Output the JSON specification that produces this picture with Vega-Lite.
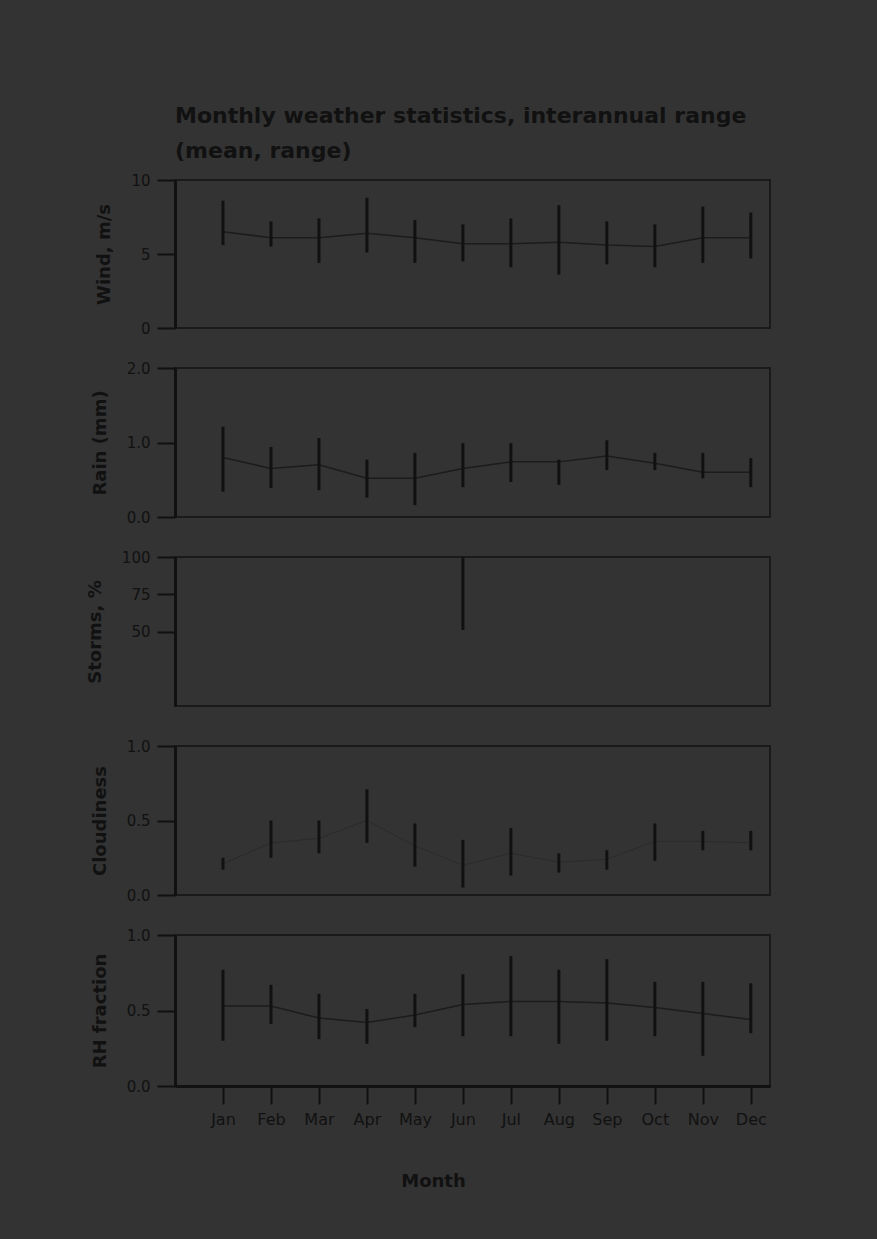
{
  "$schema": "https://vega.github.io/schema/vega-lite/v6.json",
  "background": "#333333",
  "padding": {"left": 85, "top": 105, "right": 106, "bottom": 49},
  "bounds": "flush",
  "title": {
    "text": ["Monthly weather statistics, interannual range", "(mean, range)"],
    "anchor": "start",
    "frame": "group",
    "fontSize": 22,
    "fontWeight": "bold",
    "font": "DejaVu Sans",
    "color": "#111111",
    "lineHeight": 35,
    "offset": 9
  },
  "config": {
    "view": {"stroke": "#1a1a1a", "strokeWidth": 2},
    "concat": {"spacing": 40},
    "axis": {
      "labelColor": "#111111",
      "titleColor": "#111111",
      "domainColor": "#111111",
      "tickColor": "#111111",
      "labelFont": "DejaVu Sans",
      "titleFont": "DejaVu Sans",
      "labelFontSize": 15,
      "titleFontSize": 18,
      "titleFontWeight": "bold",
      "domainWidth": 3,
      "tickSize": 18,
      "tickWidth": 2,
      "labelPadding": 7,
      "titlePadding": 17,
      "grid": false
    }
  },
  "datasets": {
    "wind": [
      {"month": 1, "lo": 5.6, "hi": 8.6, "mean": 6.5},
      {"month": 2, "lo": 5.5, "hi": 7.2, "mean": 6.1},
      {"month": 3, "lo": 4.4, "hi": 7.4, "mean": 6.1},
      {"month": 4, "lo": 5.1, "hi": 8.8, "mean": 6.4},
      {"month": 5, "lo": 4.4, "hi": 7.3, "mean": 6.1},
      {"month": 6, "lo": 4.5, "hi": 7.0, "mean": 5.7},
      {"month": 7, "lo": 4.1, "hi": 7.4, "mean": 5.7},
      {"month": 8, "lo": 3.6, "hi": 8.3, "mean": 5.8},
      {"month": 9, "lo": 4.3, "hi": 7.2, "mean": 5.6},
      {"month": 10, "lo": 4.1, "hi": 7.0, "mean": 5.5},
      {"month": 11, "lo": 4.4, "hi": 8.2, "mean": 6.1},
      {"month": 12, "lo": 4.7, "hi": 7.8, "mean": 6.1}
    ],
    "rain": [
      {"month": 1, "lo": 0.34, "hi": 1.21, "mean": 0.8},
      {"month": 2, "lo": 0.39, "hi": 0.94, "mean": 0.65},
      {"month": 3, "lo": 0.36, "hi": 1.06, "mean": 0.7},
      {"month": 4, "lo": 0.26, "hi": 0.77, "mean": 0.52},
      {"month": 5, "lo": 0.16, "hi": 0.86, "mean": 0.52},
      {"month": 6, "lo": 0.40, "hi": 0.99, "mean": 0.65},
      {"month": 7, "lo": 0.47, "hi": 0.99, "mean": 0.74},
      {"month": 8, "lo": 0.43, "hi": 0.77, "mean": 0.74},
      {"month": 9, "lo": 0.63, "hi": 1.03, "mean": 0.82},
      {"month": 10, "lo": 0.63, "hi": 0.86, "mean": 0.72},
      {"month": 11, "lo": 0.52, "hi": 0.86, "mean": 0.6},
      {"month": 12, "lo": 0.40, "hi": 0.79, "mean": 0.6}
    ],
    "storm": [
      {"month": 1, "lo": 0, "hi": 0},
      {"month": 2, "lo": 0, "hi": 0},
      {"month": 3, "lo": 0, "hi": 0},
      {"month": 4, "lo": 0, "hi": 0},
      {"month": 5, "lo": 0, "hi": 0},
      {"month": 6, "lo": 51, "hi": 100},
      {"month": 7, "lo": 0, "hi": 0},
      {"month": 8, "lo": 0, "hi": 0},
      {"month": 9, "lo": 0, "hi": 0},
      {"month": 10, "lo": 0, "hi": 0},
      {"month": 11, "lo": 0, "hi": 0},
      {"month": 12, "lo": 0, "hi": 0}
    ],
    "cloud": [
      {"month": 1, "lo": 0.17, "hi": 0.25, "mean": 0.21},
      {"month": 2, "lo": 0.25, "hi": 0.50, "mean": 0.35},
      {"month": 3, "lo": 0.28, "hi": 0.50, "mean": 0.38},
      {"month": 4, "lo": 0.35, "hi": 0.71, "mean": 0.5},
      {"month": 5, "lo": 0.19, "hi": 0.48, "mean": 0.33},
      {"month": 6, "lo": 0.05, "hi": 0.37, "mean": 0.2},
      {"month": 7, "lo": 0.13, "hi": 0.45, "mean": 0.28},
      {"month": 8, "lo": 0.15, "hi": 0.28, "mean": 0.22},
      {"month": 9, "lo": 0.17, "hi": 0.30, "mean": 0.24},
      {"month": 10, "lo": 0.23, "hi": 0.48, "mean": 0.36},
      {"month": 11, "lo": 0.30, "hi": 0.43, "mean": 0.36},
      {"month": 12, "lo": 0.30, "hi": 0.43, "mean": 0.35}
    ],
    "humid": [
      {"month": 1, "lo": 0.30, "hi": 0.77, "mean": 0.53},
      {"month": 2, "lo": 0.41, "hi": 0.67, "mean": 0.53},
      {"month": 3, "lo": 0.31, "hi": 0.61, "mean": 0.45},
      {"month": 4, "lo": 0.28, "hi": 0.51, "mean": 0.42},
      {"month": 5, "lo": 0.39, "hi": 0.61, "mean": 0.47},
      {"month": 6, "lo": 0.33, "hi": 0.74, "mean": 0.54},
      {"month": 7, "lo": 0.33, "hi": 0.86, "mean": 0.56},
      {"month": 8, "lo": 0.28, "hi": 0.77, "mean": 0.56},
      {"month": 9, "lo": 0.30, "hi": 0.84, "mean": 0.55},
      {"month": 10, "lo": 0.33, "hi": 0.69, "mean": 0.52},
      {"month": 11, "lo": 0.20, "hi": 0.69, "mean": 0.48},
      {"month": 12, "lo": 0.35, "hi": 0.68, "mean": 0.44}
    ]
  },
  "vconcat": [
    {
      "width": 595, "height": 148,
      "data": {"name": "wind"},
      "layer": [
        {"mark": {"type": "line", "color": "#1c1c1c", "strokeWidth": 1.5},
         "encoding": {
           "x": {"field": "month", "type": "quantitative", "scale": {"domain": [0, 12.4], "nice": false}, "axis": null},
           "y": {"field": "mean", "type": "quantitative", "scale": {"domain": [0, 10]}, "axis": {"title": "Wind, m/s", "values": [0, 5, 10]}}
         }},
        {"mark": {"type": "rule", "color": "#111111", "strokeWidth": 3},
         "encoding": {
           "x": {"field": "month", "type": "quantitative"},
           "y": {"field": "lo", "type": "quantitative"},
           "y2": {"field": "hi"}
         }}
      ]
    },
    {
      "width": 595, "height": 149,
      "data": {"name": "rain"},
      "layer": [
        {"mark": {"type": "line", "color": "#1c1c1c", "strokeWidth": 1.5},
         "encoding": {
           "x": {"field": "month", "type": "quantitative", "scale": {"domain": [0, 12.4], "nice": false}, "axis": null},
           "y": {"field": "mean", "type": "quantitative", "scale": {"domain": [0, 2]}, "axis": {"title": "Rain (mm)", "values": [0, 0.5, 1, 1.5, 2], "format": ".1f"}}
         }},
        {"mark": {"type": "rule", "color": "#111111", "strokeWidth": 3},
         "encoding": {
           "x": {"field": "month", "type": "quantitative"},
           "y": {"field": "lo", "type": "quantitative"},
           "y2": {"field": "hi"}
         }}
      ]
    },
    {
      "width": 595, "height": 149,
      "data": {"name": "storm"},
      "mark": {"type": "rule", "color": "#111111", "strokeWidth": 3},
      "encoding": {
        "x": {"field": "month", "type": "quantitative", "scale": {"domain": [0, 12.4], "nice": false}, "axis": null},
        "y": {"field": "lo", "type": "quantitative", "scale": {"domain": [0, 100]}, "axis": {"title": "Storms, %", "values": [50, 75, 100]}},
        "y2": {"field": "hi"}
      }
    },
    {
      "width": 595, "height": 149,
      "data": {"name": "cloud"},
      "layer": [
        {"mark": {"type": "line", "color": "#2a2a2a", "strokeWidth": 1},
         "encoding": {
           "x": {"field": "month", "type": "quantitative", "scale": {"domain": [0, 12.4], "nice": false}, "axis": null},
           "y": {"field": "mean", "type": "quantitative", "scale": {"domain": [0, 1]}, "axis": {"title": "Cloudiness", "values": [0, 0.5, 1], "format": ".1f"}}
         }},
        {"mark": {"type": "rule", "color": "#111111", "strokeWidth": 3},
         "encoding": {
           "x": {"field": "month", "type": "quantitative"},
           "y": {"field": "lo", "type": "quantitative"},
           "y2": {"field": "hi"}
         }}
      ]
    },
    {
      "width": 595, "height": 151,
      "data": {"name": "humid"},
      "layer": [
        {"mark": {"type": "line", "color": "#1c1c1c", "strokeWidth": 1.5},
         "encoding": {
           "x": {"field": "month", "type": "quantitative", "scale": {"domain": [0, 12.4], "nice": false},
                 "axis": {"title": "Month", "values": [1, 2, 3, 4, 5, 6, 7, 8, 9, 10, 11, 12],
                          "labelExpr": "['Jan','Feb','Mar','Apr','May','Jun','Jul','Aug','Sep','Oct','Nov','Dec'][datum.value - 1]",
                          "labelFontSize": 16, "titleFontSize": 18, "titlePadding": 45, "titleX": 258}},
           "y": {"field": "mean", "type": "quantitative", "scale": {"domain": [0, 1]}, "axis": {"title": "RH fraction", "values": [0, 0.5, 1], "format": ".1f"}}
         }},
        {"mark": {"type": "rule", "color": "#111111", "strokeWidth": 3},
         "encoding": {
           "x": {"field": "month", "type": "quantitative"},
           "y": {"field": "lo", "type": "quantitative"},
           "y2": {"field": "hi"}
         }}
      ]
    }
  ]
}
